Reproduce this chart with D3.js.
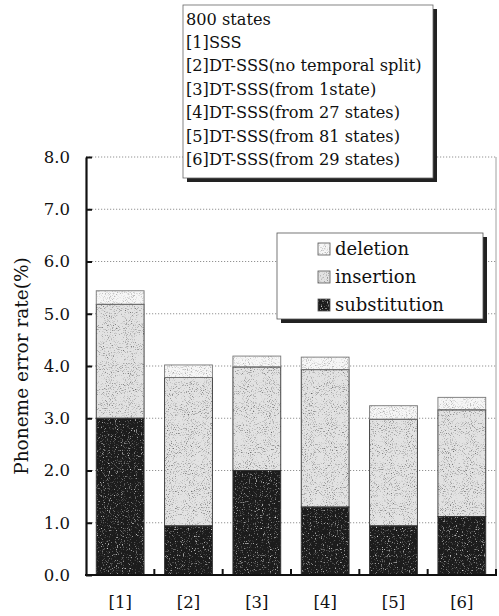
<!DOCTYPE html>
<html>
<head>
<meta charset="utf-8">
<script src="https://cdn.jsdelivr.net/npm/d3@7"></script>
<style>
  html, body { margin: 0; padding: 0; background: #fff; }
  svg { display: block; }
  text { font-family: "DejaVu Serif", "Liberation Serif", serif; fill: #111; }
</style>
</head>
<body>
<div id="chart"></div>
<script>
// Phoneme error rate per system, split into error types (stacked, %)
const categories = ["[1]", "[2]", "[3]", "[4]", "[5]", "[6]"];
const substitution = [3.00, 0.94, 2.00, 1.30, 0.94, 1.12];
const insertion    = [2.18, 2.84, 1.98, 2.63, 2.04, 2.04];
const deletion     = [0.26, 0.24, 0.21, 0.24, 0.26, 0.24];
const yTicks = [0, 1, 2, 3, 4, 5, 6, 7, 8];
const seriesNames = ["substitution", "insertion", "deletion"];
const legendOrder = ["deletion", "insertion", "substitution"];
const noteLines = [
  "800 states",
  "[1]SSS",
  "[2]DT-SSS(no temporal split)",
  "[3]DT-SSS(from 1state)",
  "[4]DT-SSS(from 27 states)",
  "[5]DT-SSS(from 81 states)",
  "[6]DT-SSS(from 29 states)"
];
const yTitle = "Phoneme error rate(%)";

const W = 499, H = 616;
const plot = { left: 86, right: 496, top: 157, bottom: 575 };

const svg = d3.select("#chart").append("svg")
  .attr("width", W).attr("height", H);

// stipple textures for the bar fills
const defs = svg.append("defs");
function stipple(id, mode, seed, slope, intercept, freq) {
  const f = defs.append("filter").attr("id", id)
    .attr("x", 0).attr("y", 0).attr("width", 1).attr("height", 1)
    .attr("color-interpolation-filters", "sRGB");
  f.append("feTurbulence").attr("type", "fractalNoise")
    .attr("baseFrequency", freq).attr("numOctaves", 2).attr("seed", seed).attr("result", "noise");
  f.append("feColorMatrix").attr("in", "noise").attr("type", "matrix")
    .attr("values", "1 0 0 0 0  1 0 0 0 0  1 0 0 0 0  0 0 0 0 1").attr("result", "grey");
  const ct = f.append("feComponentTransfer").attr("in", "grey").attr("result", "dots");
  ["feFuncR", "feFuncG", "feFuncB"].forEach(fn =>
    ct.append(fn).attr("type", "linear").attr("slope", slope).attr("intercept", intercept));
  f.append("feBlend").attr("in", "SourceGraphic").attr("in2", "dots").attr("mode", mode).attr("result", "mix");
  f.append("feComposite").attr("in", "mix").attr("in2", "SourceGraphic").attr("operator", "in");
}
stipple("grain-dark", "screen", 4, 3.0, -1.75, 0.85);
stipple("grain-light", "multiply", 7, 1.6, 0.28, 0.95);
stipple("grain-faint", "multiply", 9, 1.0, 0.52, 0.95);

const fills = { substitution: "#1c1c1c", insertion: "#e2e2e2", deletion: "#f6f6f6" };
const filters = { substitution: "url(#grain-dark)", insertion: "url(#grain-light)", deletion: "url(#grain-faint)" };

const x = d3.scaleBand().domain(categories)
  .range([plot.left, plot.right]).paddingInner(0.3).paddingOuter(0.15);
const y = d3.scaleLinear().domain([0, 8]).range([plot.bottom, plot.top]);

// gridlines
svg.append("g").selectAll("line").data(yTicks.filter(t => t > 0)).join("line")
  .attr("x1", plot.left).attr("x2", plot.right)
  .attr("y1", d => y(d)).attr("y2", d => y(d))
  .attr("stroke", "#777").attr("stroke-width", 0.8).attr("stroke-dasharray", "1.2,1.8");

// right frame edge
svg.append("line")
  .attr("x1", plot.right).attr("x2", plot.right)
  .attr("y1", y(8)).attr("y2", y(0))
  .attr("stroke", "#888").attr("stroke-width", 0.8);

// stacked bars
const rows = categories.map((c, i) => ({
  cat: c, substitution: substitution[i], insertion: insertion[i], deletion: deletion[i]
}));
const stack = d3.stack().keys(seriesNames)(rows);
const barG = svg.append("g");
stack.forEach(layer => {
  barG.append("g").selectAll("rect").data(layer).join("rect")
    .attr("x", d => x(d.data.cat))
    .attr("width", x.bandwidth())
    .attr("y", d => y(d[1]))
    .attr("height", d => y(d[0]) - y(d[1]))
    .attr("fill", fills[layer.key])
    .attr("filter", filters[layer.key]);
});
// outlines
stack.forEach(layer => {
  barG.append("g").selectAll("rect").data(layer).join("rect")
    .attr("x", d => x(d.data.cat))
    .attr("width", x.bandwidth())
    .attr("y", d => y(d[1]))
    .attr("height", d => y(d[0]) - y(d[1]))
    .attr("fill", "none")
    .attr("stroke", layer.key === "deletion" ? "#777" : "#333")
    .attr("stroke-width", 0.9);
});

// y axis
const yAxis = d3.axisLeft(y).tickValues(yTicks).tickFormat(d3.format(".1f"))
  .tickSizeInner(-6).tickSizeOuter(0).tickPadding(16);
const yg = svg.append("g").attr("transform", `translate(${plot.left},0)`).call(yAxis);
yg.select(".domain").attr("stroke", "#111").attr("stroke-width", 2.2);
yg.selectAll(".tick line").attr("stroke", "#111").attr("stroke-width", 2);
yg.selectAll(".tick text").style("font-family", '"DejaVu Serif", serif')
  .style("font-size", "16.5px").attr("fill", "#111");

// x axis
const xAxis = d3.axisBottom(x).tickSize(0).tickPadding(21);
const xg = svg.append("g").attr("transform", `translate(0,${plot.bottom})`).call(xAxis);
xg.select(".domain").remove();
xg.selectAll(".tick text").style("font-family", '"DejaVu Serif", serif')
  .style("font-size", "16.5px").attr("fill", "#111");
svg.append("line")
  .attr("x1", plot.left - 1).attr("x2", plot.right + 1)
  .attr("y1", plot.bottom).attr("y2", plot.bottom)
  .attr("stroke", "#111").attr("stroke-width", 2.2);
// inward tick marks at the category boundaries
const half = x.step() * x.paddingInner() / 2;
const bounds = categories.slice(1).map(c => x(c) - half).concat([plot.right]);
svg.append("g").selectAll("line").data(bounds).join("line")
  .attr("x1", d => d).attr("x2", d => d)
  .attr("y1", plot.bottom).attr("y2", plot.bottom - 6)
  .attr("stroke", "#111").attr("stroke-width", 2);

// y title
svg.append("text")
  .attr("transform", `translate(28,${(plot.top + plot.bottom) / 2}) rotate(-90)`)
  .attr("text-anchor", "middle")
  .style("font-size", "18.5px")
  .text(yTitle);

// legend
const lg = svg.append("g").attr("transform", "translate(277,233)");
lg.append("rect").attr("x", 4).attr("y", 4).attr("width", 206).attr("height", 86).attr("fill", "#222");
lg.append("rect").attr("width", 206).attr("height", 86)
  .attr("fill", "#fff").attr("stroke", "#555").attr("stroke-width", 0.8);
legendOrder.forEach((k, i) => {
  const row = lg.append("g").attr("transform", `translate(41,${16 + i * 28})`);
  row.append("rect").attr("x", 0).attr("y", -6).attr("width", 12).attr("height", 12)
    .attr("fill", fills[k]).attr("filter", filters[k]);
  row.append("rect").attr("x", 0).attr("y", -6).attr("width", 12).attr("height", 12)
    .attr("fill", "none").attr("stroke", "#555").attr("stroke-width", 0.8);
  row.append("text").attr("x", 17).attr("dy", "0.35em")
    .style("font-size", "18px").text(k);
});

// system key box
const nb = svg.append("g").attr("transform", "translate(183,5)");
nb.append("rect").attr("x", 4).attr("y", 4).attr("width", 250).attr("height", 173).attr("fill", "#222");
nb.append("rect").attr("width", 250).attr("height", 173)
  .attr("fill", "#fff").attr("stroke", "#666").attr("stroke-width", 0.8);
noteLines.forEach((t, i) => {
  nb.append("text").attr("x", 3).attr("y", 14 + i * 23.4).attr("dy", "0.35em")
    .style("font-size", "16.2px").text(t);
});
</script>
</body>
</html>
